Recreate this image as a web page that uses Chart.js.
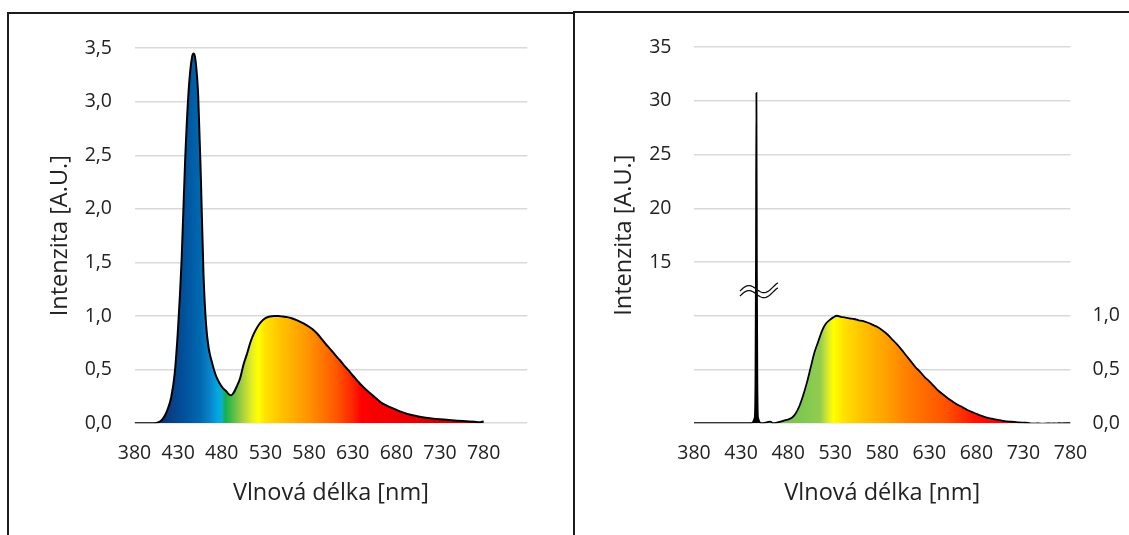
<!DOCTYPE html>
<html>
<head>
<meta charset="utf-8">
<script src="https://cdn.jsdelivr.net/npm/chart.js@4.4.1/dist/chart.umd.min.js"></script>
<style>
  html, body { margin: 0; padding: 0; background: #fff; overflow: hidden; }
  body { width: 1129px; height: 535px; position: relative; }
  .panel { position: absolute; box-sizing: border-box; border: 2px solid #1c1c1c; }
  #panelL { left: 7px; top: 12px; width: 568px; height: 600px; }
  #panelR { left: 573px; top: 11px; width: 600px; height: 600px; }
  canvas { position: absolute; }
  #chartL { left: 9px; top: 14px; width: 562px; height: 521px; }
  #chartR { left: 575px; top: 13px; width: 554px; height: 522px; }
</style>
</head>
<body>
<div class="panel" id="panelL"></div>
<div class="panel" id="panelR"></div>
<canvas id="chartL" width="562" height="521"></canvas>
<canvas id="chartR" width="554" height="522"></canvas>
<script>
// levé spektrum - vlnová délka [nm] a intenzita [A.U.]
const vlnovaL = [380, 390, 400, 405, 410, 414, 418, 422, 426, 430, 434, 438, 442, 446, 448, 450, 453, 456, 459, 462, 465,
  469, 473, 477, 481, 485, 488, 491, 494, 497, 501, 505, 509, 513, 517, 521, 525, 530, 535, 540, 545, 550, 555, 560,
  565, 570, 575, 580, 585, 590, 595, 600, 605, 610, 615, 620, 625, 630, 635, 640, 645, 650, 655, 660, 665, 670, 675,
  680, 685, 690, 695, 700, 710, 720, 730, 740, 750, 760, 770, 775, 778, 780];
const intenzitaL = [0, 0, 0, 0.003, 0.02, 0.06, 0.13, 0.24, 0.46, 0.9, 1.53, 2.45, 3.1, 3.42, 3.45, 3.38, 3.05, 2.3, 1.4, 0.92, 0.7,
  0.56, 0.45, 0.38, 0.33, 0.3, 0.27, 0.26, 0.29, 0.34, 0.42, 0.55, 0.65, 0.76, 0.84, 0.9, 0.945, 0.98, 0.995, 1.0, 1.0, 0.995, 0.99, 0.98,
  0.965, 0.945, 0.925, 0.9, 0.87, 0.83, 0.78, 0.73, 0.685, 0.635, 0.59, 0.54, 0.495, 0.445, 0.4, 0.355, 0.315, 0.28, 0.245, 0.21, 0.18, 0.16, 0.143,
  0.125, 0.108, 0.094, 0.082, 0.072, 0.056, 0.045, 0.036, 0.029, 0.023, 0.018, 0.013, 0.01, 0.013, 0.016];

// pravé spektrum - skutečné hodnoty (úzký pík ~30,75)
const vlnovaR = [380, 400, 420, 440, 444.5, 445.3, 445.8, 446.3, 446.8, 447.3, 448, 452, 458, 461, 464, 468, 472, 478, 484, 488, 492, 496,
  500, 504, 508, 512, 516, 520, 524, 528, 532, 536, 540, 545, 550, 555, 560, 565, 570, 575, 580, 585, 590, 595, 600,
  605, 610, 615, 620, 625, 630, 635, 640, 645, 650, 655, 660, 665, 670, 675, 680, 685, 690, 695, 700, 705, 710, 715,
  720, 725, 730, 735, 740, 745, 750, 755, 760, 765, 770, 775, 780];
const intenzitaR = [0, 0, 0, 0, 0.05, 0.4, 12, 30.75, 12, 0.4, 0.05, 0, 0.01, 0.015, 0, 0.005, 0.015, 0.03, 0.05, 0.09, 0.16, 0.26,
  0.38, 0.52, 0.66, 0.76, 0.86, 0.925, 0.96, 0.985, 1.0, 0.99, 0.985, 0.975, 0.97, 0.958, 0.95, 0.935, 0.915, 0.895, 0.865, 0.83, 0.785, 0.74, 0.69,
  0.635, 0.58, 0.525, 0.48, 0.43, 0.39, 0.345, 0.3, 0.265, 0.23, 0.2, 0.172, 0.15, 0.125, 0.105, 0.088, 0.07, 0.055, 0.045, 0.035, 0.028, 0.02, 0.015,
  0.012, 0.008, 0.005, 0.002, -0.005, -0.003, -0.006, -0.002, -0.004, -0.003, -0.002, 0, 0];

// popisky os
const xPopisky = [380, 430, 480, 530, 580, 630, 680, 730, 780];
const yPopiskyL = ['0,0', '0,5', '1,0', '1,5', '2,0', '2,5', '3,0', '3,5'];
const yPopiskyRvlevo = ['', '', '', '15', '20', '25', '30', '35'];
const yPopiskyRvpravo = ['0,0', '0,5', '1,0', '', '', '', '', ''];

// barvy výplně podle vlnové délky
const barvyL = [[405, '#0a2d6b'], [420, '#0b3d80'], [436, '#00509a'], [455, '#0068b0'], [466, '#0a82c8'], [475, '#00a8e0'],
  [480, '#10aecb'], [484, '#12b04c'], [492, '#50bb48'], [504, '#a8d040'], [515, '#e8f020'], [522, '#ffff00'], [530, '#ffe200'],
  [550, '#ffc000'], [581, '#ff9000'], [610, '#ff5a00'], [630, '#ff2400'], [640, '#ff0000'], [700, '#e80000'], [730, '#d00000'], [780, '#c00000']];
const barvyR = [[440, '#000000'], [452, '#000000'], [453, '#70c050'], [495, '#80c850'], [514, '#92cc50'], [522, '#d8e830'], [528, '#ffff00'], [540, '#ffe000'],
  [560, '#ffc000'], [585, '#ffa000'], [606, '#ff8000'], [649, '#ff5000'], [677, '#ff1500'], [702, '#ff0000'], [780, '#e00000']];

const textColor = '#222';
const tickFont = { family: 'Open Sans', size: 19.5 };
const titleFont = { family: 'Open Sans', size: 23.5 };

// přepočet hodnot pro přerušenou osu (0-1 dole, 15-35 nahoře)
const naOsu = v => v <= 1 ? v : (v >= 15 ? v / 10 : 1 + (v - 1) / 14 * 0.5);

const gradient = (stops) => (context) => {
    const {ctx, chartArea, scales} = context.chart;
    if (!chartArea) return null;
    const x0 = scales.x.getPixelForValue(380);
    const x1 = scales.x.getPixelForValue(780);
    const g = ctx.createLinearGradient(x0, 0, x1, 0);
    g.addColorStop(0, stops[0][1]);
    stops.forEach(([nm, c]) => g.addColorStop((nm - 380) / 400, c));
    return g;
}

const xAxis = (max, height) => ({
    type: 'linear',
    min: 380,
    max: max,
    grid: { display: false, drawTicks: false },
    border: { display: false },
    ticks: {
        stepSize: 50,
        autoSkip: false,
        maxRotation: 0,
        padding: 19,
        color: textColor,
        font: tickFont,
        callback: v => xPopisky.includes(v) ? String(v) : ''
    },
    title: { display: true, text: 'Vlnová délka [nm]', color: textColor, font: titleFont, padding: { top: 0, bottom: 28 } },
    afterFit: s => { s.height = height; }
});

const yAxis = (labels, position, width, showGrid, titlePad) => ({
    type: 'linear',
    position: position,
    min: 0,
    max: 3.5,
    grid: { display: showGrid, drawTicks: false, color: '#d9d9d9', lineWidth: 1.5 },
    border: { display: false },
    ticks: {
        stepSize: 0.5,
        padding: position === 'left' ? 22.5 : 22,
        color: textColor,
        font: tickFont,
        callback: (v, i) => labels[i]
    },
    title: titlePad === null ? { display: false } :
        { display: true, text: 'Intenzita [A.U.]', color: textColor, font: titleFont, padding: { top: titlePad, bottom: 0 } },
    afterFit: s => { s.width = width; }
});

// znak přerušení osy (≈) přes úzký pík
const breakPlugin = {
    id: 'preruseni',
    afterDatasetsDraw(chart) {
        const {ctx, scales} = chart;
        const cx = scales.x.getPixelForValue(446.3) + 2.5;
        const cy = scales.y.getPixelForValue(1.2275);
        ctx.save();
        ctx.strokeStyle = '#111';
        ctx.lineWidth = 1.3;
        [-2.5, 2.5].forEach(off => {
            ctx.beginPath();
            for (let i = 0; i <= 38; i++) {
                const dx = i - 19;
                const y = cy + off - 0.12 * dx - 4.5 * Math.sin(2 * Math.PI * i / 33);
                if (i === 0) ctx.moveTo(cx + dx, y); else ctx.lineTo(cx + dx, y);
            }
            ctx.stroke();
        });
        ctx.restore();
    }
}

const baseOptions = {
    responsive: false,
    animation: false,
    devicePixelRatio: 1,
    plugins: { legend: { display: false }, tooltip: { enabled: false } },
    elements: { point: { radius: 0 } }
}

new Chart(document.getElementById('chartL'), {
    type: 'line',
    data: {
        datasets: [{
            data: vlnovaL.map((x, i) => ({ x: x, y: intenzitaL[i] })),
            borderColor: '#000',
            borderWidth: 2,
            fill: 'origin',
            backgroundColor: gradient(barvyL),
            cubicInterpolationMode: 'monotone'
        }]
    },
    options: {
        ...baseOptions,
        layout: { padding: { top: 27.6, right: 43.7, bottom: 0, left: 0 } },
        scales: {
            x: xAxis(830, 111.8),
            y: yAxis(yPopiskyL, 'left', 125.5, true, 36.9)
        }
    }
});

new Chart(document.getElementById('chartR'), {
    type: 'line',
    data: {
        datasets: [{
            data: vlnovaR.map((x, i) => ({ x: x, y: naOsu(intenzitaR[i]) })),
            borderColor: '#000',
            borderWidth: 1.8,
            fill: 'origin',
            backgroundColor: gradient(barvyR),
            cubicInterpolationMode: 'monotone'
        }]
    },
    options: {
        ...baseOptions,
        layout: { padding: { top: 28.6, right: 0, bottom: 0, left: 0 } },
        scales: {
            x: xAxis(780, 111.8),
            y: yAxis(yPopiskyRvlevo, 'left', 119, true, 35.5),
            y2: yAxis(yPopiskyRvpravo, 'right', 58.5, false, null)
        }
    },
    plugins: [breakPlugin]
});
</script>
</body>
</html>
